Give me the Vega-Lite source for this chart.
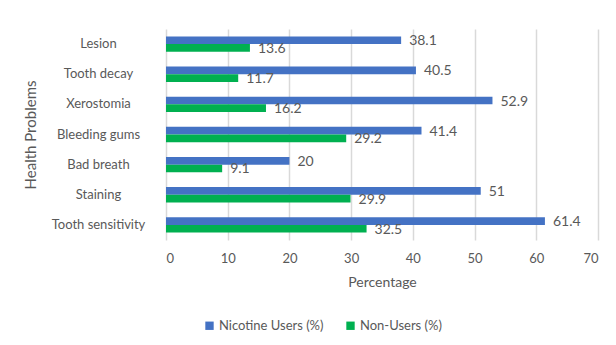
{
  "$schema": "https://vega.github.io/schema/vega-lite/v6.json",
  "autosize": {"type": "none"},
  "width": 432,
  "height": 211,
  "padding": {"left": 166, "top": 29, "right": 18, "bottom": 105},
  "background": "white",
  "config": {
    "font": "Lato",
    "view": {"stroke": null},
    "axis": {"labelColor": "#595959", "titleColor": "#595959", "titleFontWeight": "normal", "labelFont": "Lato", "titleFont": "Lato"},
    "legend": {"labelColor": "#595959", "labelFont": "Lato"}
  },
  "data": {
    "values": [
      {"problem": "Lesion", "group": "Nicotine Users (%)", "value": 38.1},
      {"problem": "Lesion", "group": "Non-Users (%)", "value": 13.6},
      {"problem": "Tooth decay", "group": "Nicotine Users (%)", "value": 40.5},
      {"problem": "Tooth decay", "group": "Non-Users (%)", "value": 11.7},
      {"problem": "Xerostomia", "group": "Nicotine Users (%)", "value": 52.9},
      {"problem": "Xerostomia", "group": "Non-Users (%)", "value": 16.2},
      {"problem": "Bleeding gums", "group": "Nicotine Users (%)", "value": 41.4},
      {"problem": "Bleeding gums", "group": "Non-Users (%)", "value": 29.2},
      {"problem": "Bad breath", "group": "Nicotine Users (%)", "value": 20},
      {"problem": "Bad breath", "group": "Non-Users (%)", "value": 9.1},
      {"problem": "Staining", "group": "Nicotine Users (%)", "value": 51},
      {"problem": "Staining", "group": "Non-Users (%)", "value": 29.9},
      {"problem": "Tooth sensitivity", "group": "Nicotine Users (%)", "value": 61.4},
      {"problem": "Tooth sensitivity", "group": "Non-Users (%)", "value": 32.5}
    ]
  },
  "encoding": {
    "y": {
      "field": "problem",
      "type": "nominal",
      "sort": null,
      "scale": {"paddingInner": 0.49, "paddingOuter": 0.245},
      "axis": {
        "title": "Health Problems",
        "titleFontSize": 15,
        "titlePadding": 13,
        "labelFontSize": 13,
        "labelAlign": "center",
        "labelPadding": 68,
        "ticks": false,
        "domain": false,
        "grid": false
      }
    },
    "yOffset": {"field": "group", "type": "nominal", "sort": ["Nicotine Users (%)", "Non-Users (%)"]},
    "x": {
      "field": "value",
      "type": "quantitative",
      "scale": {"domain": [0, 70], "nice": false},
      "axis": {
        "title": "Percentage",
        "titleFontSize": 14,
        "titlePadding": 10,
        "labelFontSize": 13,
        "labelPadding": 12,
        "values": [0, 10, 20, 30, 40, 50, 60, 70],
        "labelOverlap": false,
        "ticks": false,
        "domain": false,
        "grid": true,
        "gridColor": "#d9d9d9",
        "gridWidth": 1.5
      }
    }
  },
  "layer": [
    {
      "mark": {"type": "bar", "stroke": null},
      "encoding": {
        "color": {
          "field": "group",
          "type": "nominal",
          "scale": {"domain": ["Nicotine Users (%)", "Non-Users (%)"], "range": ["#4472C4", "#00B050"]},
          "legend": {
            "title": null,
            "orient": "none",
            "direction": "horizontal",
            "legendX": 37,
            "legendY": 290,
            "symbolType": "square",
            "symbolSize": 70,
            "labelFontSize": 13,
            "columnPadding": 20,
            "labelOffset": 3
          }
        }
      }
    },
    {
      "mark": {"type": "text", "align": "left", "baseline": "middle", "dx": 8, "dy": 1, "fontSize": 14, "color": "#595959"},
      "encoding": {
        "text": {"field": "value", "type": "quantitative"}
      }
    }
  ]
}
